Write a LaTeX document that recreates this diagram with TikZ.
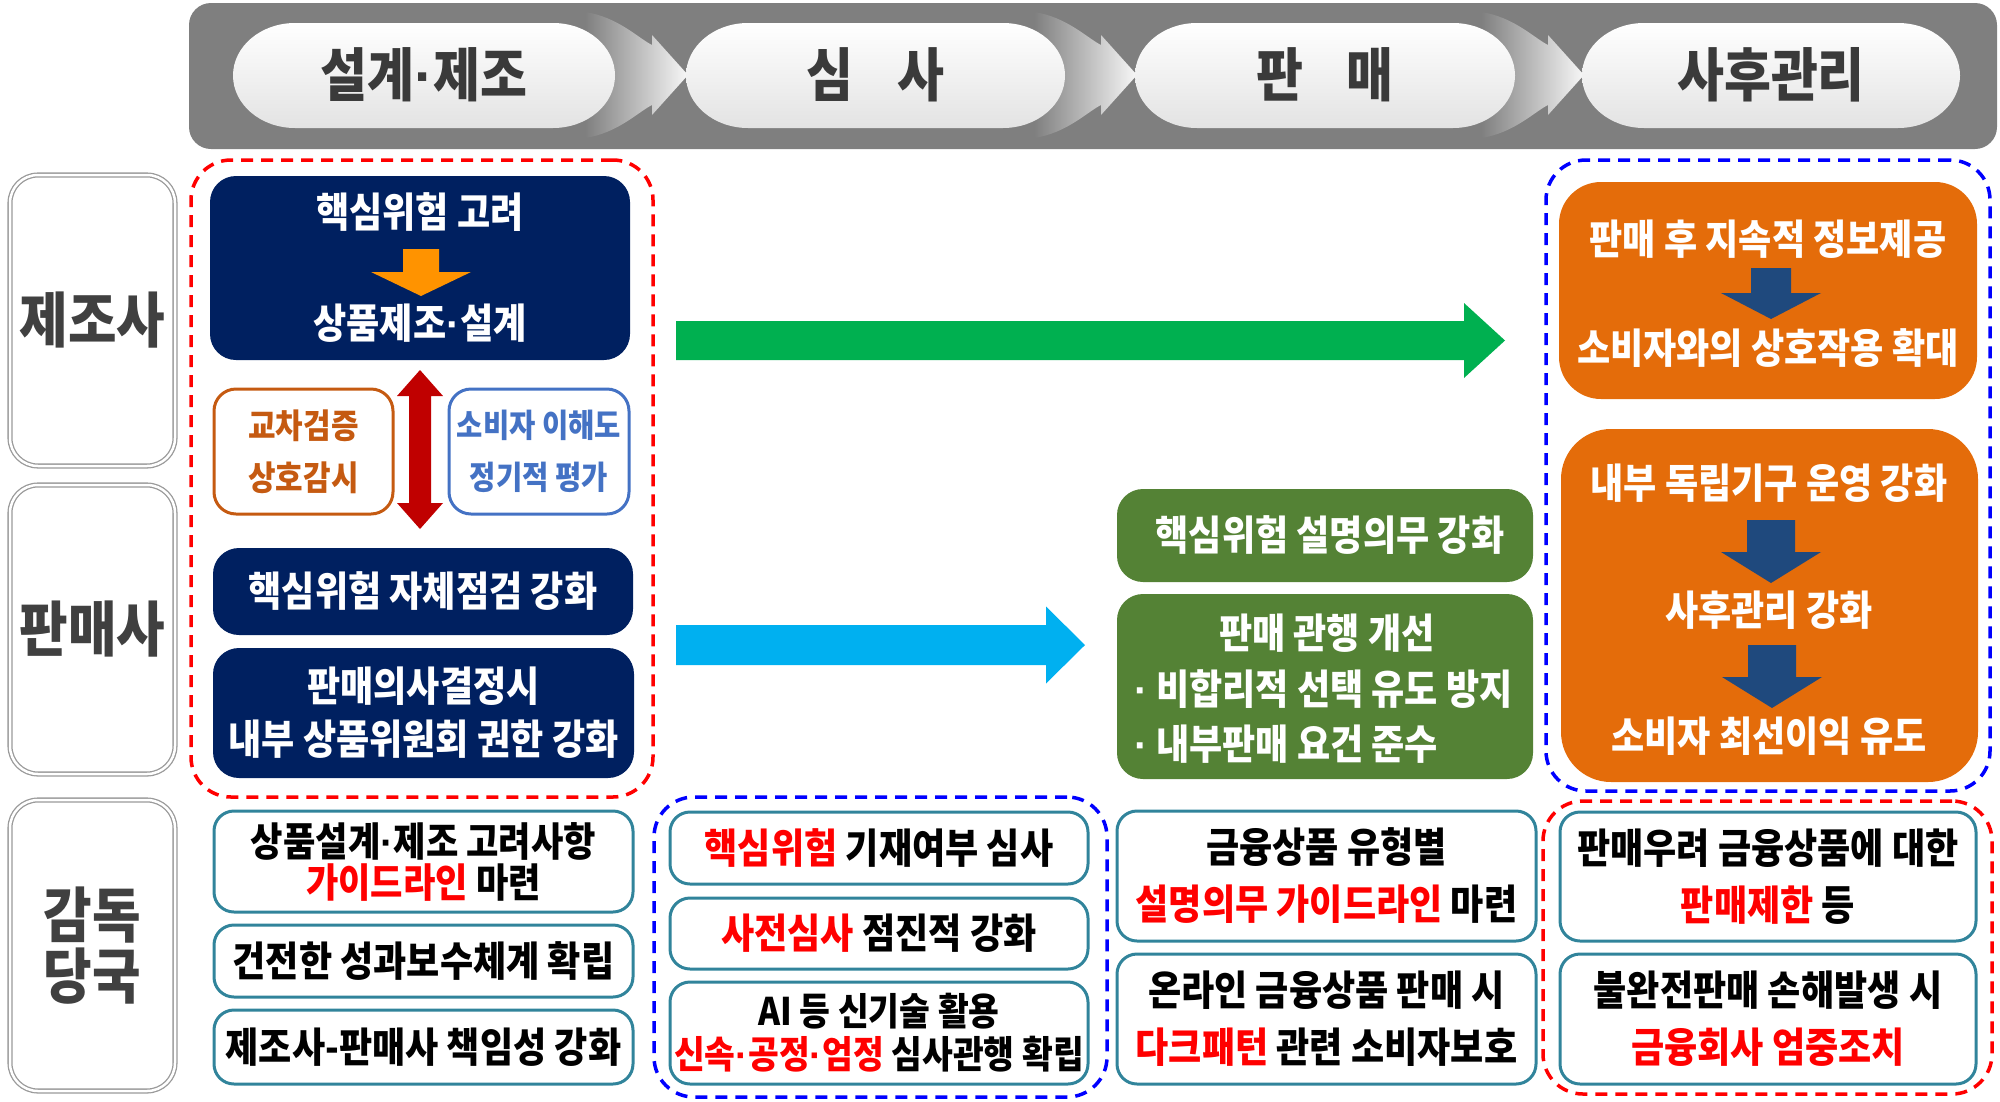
\documentclass[tikz,border=0pt]{standalone}
\usepackage{fontspec}
\setmainfont{Noto Sans CJK KR}[FakeStretch=0.88]
\newfontfamily\latf{Liberation Sans}
\newcommand\md{{\latf\bfseries ·}}
\usetikzlibrary{calc}
\definecolor{hdrbg}{HTML}{7F7F7F}
\definecolor{hdrtxt}{HTML}{3A3A3A}
\definecolor{labline}{HTML}{9A9A9A}
\definecolor{labtxt}{HTML}{404040}
\definecolor{navyc}{HTML}{002060}
\definecolor{orarrow}{HTML}{FF9300}
\definecolor{dred}{HTML}{C00000}
\definecolor{obrown}{HTML}{C55A11}
\definecolor{bblue}{HTML}{4472C4}
\definecolor{garrow}{HTML}{00B050}
\definecolor{carrow}{HTML}{00B0F0}
\definecolor{dgreen}{HTML}{548235}
\definecolor{orfill}{HTML}{E46C0A}
\definecolor{darrow}{HTML}{1F497D}
\definecolor{tealc}{HTML}{31849B}
\definecolor{pured}{HTML}{FF0000}
\definecolor{pureblue}{HTML}{0000FF}
\newcommand\redt[1]{\textcolor{pured}{#1}}
\newcommand\mybox[7]{\node[#6,minimum width={#4-#2},minimum height={#5-#3}] (#1) at ({(#2+#4)/2},{(#3+#5)/2}) {#7};}
% horizontal fat arrow: start, end, half shaft, half head, head length, colour
\newcommand\fatH[6]{\fill[#6] ($(#1)+(0,-#3)$) -- ($(#2)+(-#5,-#3)$) -- ($(#2)+(-#5,-#4)$) -- (#2) -- ($(#2)+(-#5,#4)$) -- ($(#2)+(-#5,#3)$) -- ($(#1)+(0,#3)$) -- cycle;}
% downward fat arrow: start(top), tip, half shaft, half head, head length, colour
\newcommand\fatD[6]{\fill[#6] ($(#1)+(-#3,0)$) -- ($(#2)+(-#3,-#5)$) -- ($(#2)+(-#4,-#5)$) -- (#2) -- ($(#2)+(#4,-#5)$) -- ($(#2)+(#3,-#5)$) -- ($(#1)+(#3,0)$) -- cycle;}
\newcommand\chev[1]{\shade[left color=hdrbg, right color=gray!6] ({#1-103},12) .. controls ({#1-70},17) and ({#1-50},38) .. ({#1-36},45) -- ({#1-36},35) -- (#1,75) -- ({#1-36},115) -- ({#1-36},105) .. controls ({#1-50},112) and ({#1-70},133) .. ({#1-103},138) -- cycle;}
\newcommand\pill[2]{\shade[top color=white, bottom color=gray!22] ({#1+62},23) -- ({#2-62},23) arc[start angle=90,end angle=-90,x radius=62pt,y radius=52.5pt] -- ({#1+62},128) arc[start angle=270,end angle=90,x radius=62pt,y radius=52.5pt] -- cycle;}
\begin{document}
\begin{tikzpicture}[x=1pt,y=-1pt,
  hdr/.style={text=hdrtxt,font=\bfseries\fontsize{58}{60}\selectfont,inner sep=0},
  labbox/.style={draw=labline,double=white,double distance=2.5pt,line width=1.3pt,rounded corners=28pt,inner sep=0,text=labtxt,font=\bfseries\fontsize{60}{61}\selectfont,align=center},
  navybox/.style={fill=navyc,rounded corners=26pt,inner sep=0,text=white,font=\bfseries\fontsize{41}{53}\selectfont,align=center},
  obox/.style={draw=obrown,line width=3pt,rounded corners=22pt,inner sep=0,text=obrown,font=\bfseries\fontsize{34}{52}\selectfont,align=center},
  bluebox/.style={draw=bblue,line width=3pt,rounded corners=22pt,inner sep=0,text=bblue,font=\bfseries\fontsize{32.5}{52}\selectfont,align=center},
  gbox/.style={fill=dgreen,rounded corners=26pt,inner sep=0,text=white,font=\bfseries\fontsize{41}{55}\selectfont,align=center},
  orbox/.style={fill=orfill,rounded corners=42pt,inner sep=0},
  wtext/.style={text=white,font=\bfseries\fontsize{41}{55}\selectfont,inner sep=0},
  tbox/.style={draw=tealc,line width=3pt,fill=white,rounded corners=20pt,inner sep=0,text=black,font=\bfseries\fontsize{41}{57}\selectfont,align=center},
  rdash/.style={draw=pured,line width=3.5pt,dash pattern=on 12pt off 8pt,rounded corners=40pt,inner sep=0},
  bdash/.style={draw=pureblue,line width=3.5pt,dash pattern=on 12pt off 8pt,rounded corners=40pt,inner sep=0}]
\useasboundingbox (0,0) rectangle (2000,1101);
% header
\mybox{hbar}{189}{3}{1997}{149}{fill=hdrbg,rounded corners=22pt,inner sep=0}{}
\chev{688}\chev{1137}\chev{1584}
\pill{233}{615}\pill{686}{1065}\pill{1135}{1515}\pill{1582}{1960}
\node[hdr] (h1) at (424,75) {설계\md 제조};
\node[hdr] (h2) at (875.5,75) {심\hspace{0.75em}사};
\node[hdr] (h3) at (1325,75) {판\hspace{0.75em}매};
\node[hdr] (h4) at (1771,75) {사후관리};
% row labels
\mybox{lab1}{10}{175}{175}{466}{labbox}{제조사}
\mybox{lab2}{10}{485}{175}{774}{labbox}{판매사}
\mybox{lab3}{10}{800}{175}{1091}{labbox}{감독\\당국}
% left group
\mybox{rd1}{191}{160}{653}{797}{rdash}{}
\mybox{n1}{210}{176}{630}{360}{navybox}{}
\node[wtext] (n1a) at (420,212) {핵심위험 고려};
\node[wtext] (n1b) at (420,323) {상품제조\md 설계};
\coordinate (oa1) at (421,249);
\coordinate (oa2) at (421,296);
\fatD{oa1}{oa2}{18}{50}{24}{orarrow}
\coordinate (rt) at (420,370);
\coordinate (rb) at (420,529);
\fill[dred] (rt) -- ($(rt)+(23,26)$) -- ($(rt)+(11,26)$) -- ($(rb)+(11,-26)$) -- ($(rb)+(23,-26)$) -- (rb) -- ($(rb)+(-23,-26)$) -- ($(rb)+(-11,-26)$) -- ($(rt)+(-11,26)$) -- ($(rt)+(-23,26)$) -- cycle;
\mybox{o1}{214}{389}{393}{514}{obox}{교차검증\\상호감시}
\mybox{b1}{449}{389}{629}{514}{bluebox}{소비자 이해도\\정기적 평가}
\mybox{n2}{213}{548}{633}{635}{navybox}{핵심위험 자체점검 강화}
\mybox{n3}{213}{648}{634}{778}{navybox}{판매의사결정시\\내부 상품위원회 권한 강화}
% arrows
\coordinate (ga1) at (676,340.5);
\coordinate (ga2) at (1505,340.5);
\fatH{ga1}{ga2}{19.5}{37.5}{41}{garrow}
\coordinate (ca1) at (676,645);
\coordinate (ca2) at (1085,645);
\fatH{ca1}{ca2}{20}{38.5}{39}{carrow}
% green boxes
\mybox{g1}{1117}{489}{1533}{582}{gbox}{\hspace{10pt}핵심위험 설명의무 강화}
\mybox{g2}{1117}{594}{1533}{779}{gbox}{}
\node[wtext] (g2a) at (1327,633) {판매 관행 개선};
\node[wtext,anchor=west] (g2b) at (1134,689) {\md\ 비합리적 선택 유도 방지};
\node[wtext,anchor=west] (g2c) at (1134,744) {\md\ 내부판매 요건 준수};
% right group
\mybox{bd1}{1546}{160}{1990}{791}{bdash}{}
\mybox{or1}{1559}{182}{1977}{399}{orbox}{}
\node[wtext] (or1a) at (1768,239) {판매 후 지속적 정보제공};
\node[wtext] (or1b) at (1768,348) {소비자와의 상호작용 확대};
\coordinate (da1) at (1771,268);
\coordinate (da2) at (1771,319);
\fatD{da1}{da2}{20}{50}{26}{darrow}
\mybox{or2}{1561}{429}{1978}{782}{orbox,rounded corners=50pt}{}
\node[wtext] (or2a) at (1769,483) {내부 독립기구 운영 강화};
\node[wtext] (or2b) at (1769,610) {사후관리 강화};
\node[wtext] (or2c) at (1769,736) {소비자 최선이익 유도};
\coordinate (db1) at (1771,520);
\coordinate (db2) at (1771,583);
\fatD{db1}{db2}{24}{50}{31}{darrow}
\coordinate (dc1) at (1772,645);
\coordinate (dc2) at (1772,708);
\fatD{dc1}{dc2}{24}{50}{31}{darrow}
% supervisory row
\mybox{c1a}{214}{811}{633}{912}{tbox,font=\bfseries\fontsize{40}{41}\selectfont}{상품설계\md 제조 고려사항\\\redt{가이드라인} 마련}
\mybox{c1b}{214}{925}{633}{997}{tbox}{건전한 성과보수체계 확립}
\mybox{c1c}{214}{1010}{633}{1084}{tbox}{제조사-판매사 책임성 강화}
\mybox{bd2}{654}{797}{1107}{1097}{bdash}{}
\mybox{c2a}{670}{812}{1088}{884}{tbox}{\redt{핵심위험} 기재여부 심사}
\mybox{c2b}{670}{898}{1088}{969}{tbox}{\redt{사전심사} 점진적 강화}
\mybox{c2c}{670}{982}{1088}{1084}{tbox,font=\bfseries\fontsize{38}{43}\selectfont}{AI 등 신기술 활용\\\redt{신속\md 공정\md 엄정} 심사관행 확립}
\mybox{c3a}{1117}{811}{1536}{941}{tbox}{금융상품 유형별\\\redt{설명의무 가이드라인} 마련}
\mybox{c3b}{1117}{954}{1536}{1084}{tbox}{온라인 금융상품 판매 시\\\redt{다크패턴} 관련 소비자보호}
\mybox{rd2}{1543}{801}{1992}{1094}{rdash}{}
\mybox{c4a}{1560}{812}{1976}{941}{tbox}{판매우려 금융상품에 대한\\\redt{판매제한} 등}
\mybox{c4b}{1560}{954}{1976}{1084}{tbox}{불완전판매 손해발생 시\\\redt{금융회사 엄중조치}}
\end{tikzpicture}
\end{document}
